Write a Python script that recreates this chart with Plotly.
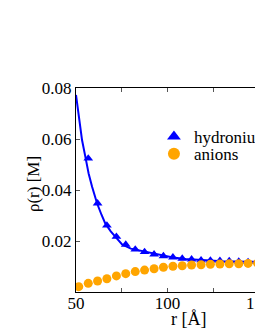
import plotly.graph_objects as go

r_pts = [51.5, 56.7, 61.8, 66.9, 72.1, 77.2, 82.4, 87.5, 92.7, 97.8, 103.0, 108.1,
         113.2, 118.4, 123.5, 128.7, 133.8, 139.0, 144.1, 149.3, 154.4, 159.6, 164.7, 169.9]
hydronium = [None, 0.0524, 0.0348, 0.0261, 0.0217, 0.0186, 0.0167, 0.0157, 0.0148, 0.0141,
             0.0136, 0.0131, 0.0128, 0.0125, 0.0124, 0.0123, 0.0122, 0.0120, 0.0118, 0.0118,
             0.0117, 0.0117, 0.0116, 0.0116]
anions = [0.0021, 0.0034, 0.0043, 0.0052, 0.0063, 0.0072, 0.0080, 0.0086, 0.0091, 0.0097,
          0.0101, 0.0103, 0.0106, 0.0107, 0.0109, 0.0110, 0.0111, 0.0111, 0.0112, 0.0113,
          0.0113, 0.0114, 0.0114, 0.0114]

r_fit = [50, 51.5, 53.3, 55.1, 56.9, 58.8, 61.5, 64, 66, 69, 71.5, 75.2, 80, 87.5, 95,
         103, 110, 118, 130, 144, 160, 172.5]
fit = [0.0773, 0.0688, 0.0596, 0.0531, 0.0465, 0.0413, 0.0348, 0.0302, 0.0269, 0.0238,
       0.0217, 0.0187, 0.0170, 0.0158, 0.0146, 0.0135, 0.0129, 0.0125, 0.0121, 0.0119,
       0.0117, 0.0116]

x_tickvals = [50, 75, 100, 125, 150, 175]
x_ticktext = ["50", "", "100", "", "150", ""]
y_tickvals = [0.02, 0.04, 0.06, 0.08]
y_ticktext = ["0.02", "0.04", "0.06", "0.08"]
x_title = "r [Å]"
y_title = "ρ(r) [M]"

BLUE = "#0000ff"
ORANGE = "#ffa500"
FONT = "Liberation Serif"

fig = go.Figure()
fig.add_trace(go.Scatter(x=r_fit, y=fit, mode="lines", line=dict(color=BLUE, width=2),
                         showlegend=False, hoverinfo="skip"))
fig.add_trace(go.Scatter(x=r_pts, y=hydronium, mode="markers", name="hydronium",
                         marker=dict(symbol="triangle-up", size=8.5, color=BLUE),
                         legend="legend"))
fig.add_trace(go.Scatter(x=r_pts, y=anions, mode="markers", name="anions",
                         marker=dict(symbol="circle", size=9, color=ORANGE),
                         legend="legend2"))

axis_common = dict(showline=True, linecolor="black", linewidth=1, mirror="allticks",
                   ticks="inside", ticklen=4, tickcolor="#555", showgrid=False,
                   zeroline=False, automargin=False,
                   tickfont=dict(family=FONT, size=17, color="black"))

fig.update_xaxes(range=[50, 172.5], tickvals=x_tickvals, ticktext=x_ticktext,
                 ticklabelstandoff=-4, **axis_common)
fig.update_yaxes(range=[0, 0.08], tickvals=y_tickvals, ticktext=y_ticktext, **axis_common)

fig.add_annotation(text=x_title, xref="paper", yref="paper", x=0.5, y=-0.134,
                   xanchor="center", yanchor="middle", showarrow=False,
                   font=dict(family=FONT, size=18, color="black"))
fig.add_annotation(text=y_title, xref="paper", yref="paper", x=-0.192, y=0.529,
                   xanchor="center", yanchor="middle", showarrow=False, textangle=-90,
                   font=dict(family=FONT, size=17, color="black"))

leg_common = dict(xanchor="left", yanchor="middle",
                  font=dict(family=FONT, size=17, color="black"),
                  bgcolor="rgba(0,0,0,0)", itemsizing="constant")
fig.update_layout(
    autosize=False, width=320, height=330,
    margin=dict(l=76, r=20, t=88, b=38),
    font=dict(family=FONT, size=17, color="black"),
    plot_bgcolor="white", paper_bgcolor="white",
    legend=dict(x=0.348, y=0.760, **leg_common),
    legend2=dict(x=0.348, y=0.676, **leg_common),
)

post = ("document.body.style.margin='0';"
        "document.body.style.overflow='hidden';"
        "document.documentElement.style.overflow='hidden';")
fig.write_html("out.html", post_script=post, config={"displayModeBar": False})
